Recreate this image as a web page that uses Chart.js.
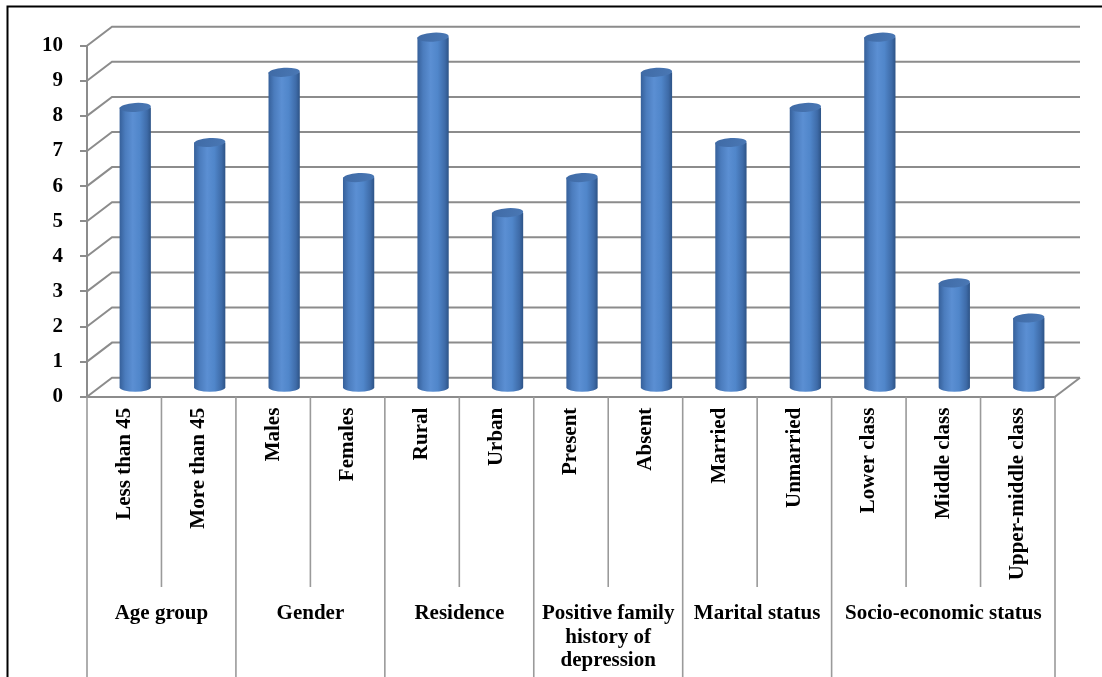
<!DOCTYPE html>
<html>
<head>
<meta charset="utf-8">
<script src="https://cdn.jsdelivr.net/npm/chart.js@4.4.1/dist/chart.umd.min.js"></script>
<style>
  html, body { margin: 0; padding: 0; background: #ffffff; }
  #wrap { position: relative; width: 1102px; height: 677px; }
</style>
</head>
<body>
<div id="wrap"><canvas id="c" width="1102" height="677"></canvas></div>
<script>
// ---- data ----
const categories = ['Less than 45', 'More than 45', 'Males', 'Females', 'Rural', 'Urban',
  'Present', 'Absent', 'Married', 'Unmarried', 'Lower class', 'Middle class', 'Upper-middle class'];
const values = [8, 7, 9, 6, 10, 5, 6, 9, 7, 8, 10, 3, 2];
const groupLabels = [['Age group'], ['Gender'], ['Residence'],
  ['Positive family', 'history of', 'depression'], ['Marital status'], ['Socio-economic status']];
const groupSizes = [2, 2, 2, 2, 2, 3];
const yTicks = [0, 1, 2, 3, 4, 5, 6, 7, 8, 9, 10];

// ---- style constants ----
const FONT = 'Liberation Serif';
const DEPTH_X = 25, DEPTH_Y = -19;      // back wall offset
const BAR_DX = 11, BAR_DY = -8.5;       // bars sit mid-depth
const GRID = '#8c8c8c';

const wallPlugin = {
  id: 'wall',
  beforeDatasetsDraw(chart) {
    const ctx = chart.ctx, ys = chart.scales.y, xs = chart.scales.x;
    ctx.save();
    ctx.strokeStyle = GRID;
    ctx.lineWidth = 2;
    yTicks.forEach(v => {
      const yf = ys.getPixelForValue(v);
      ctx.beginPath();
      ctx.moveTo(xs.left, yf);
      ctx.lineTo(xs.left + DEPTH_X, yf + DEPTH_Y);
      ctx.lineTo(xs.right + DEPTH_X, yf + DEPTH_Y);
      ctx.stroke();
    });
    const y0 = ys.getPixelForValue(0);
    ctx.beginPath();
    ctx.moveTo(xs.right, y0);
    ctx.lineTo(xs.right + DEPTH_X, y0 + DEPTH_Y);
    ctx.stroke();
    ctx.restore();
  },
  afterDatasetsDraw(chart) {
    const ctx = chart.ctx;
    const meta = chart.getDatasetMeta(0);
    meta.data.forEach(bar => {
      const p = bar.getProps(['x', 'y', 'base', 'width'], true);
      const cx = p.x + BAR_DX, rx = p.width / 2, ry = 4.5;
      const yt = p.y + BAR_DY, yb = p.base + BAR_DY;
      const g = ctx.createLinearGradient(cx - rx, 0, cx + rx, 0);
      g.addColorStop(0, '#36609a');
      g.addColorStop(0.18, '#4b7cbd');
      g.addColorStop(0.42, '#5b8fd3');
      g.addColorStop(0.65, '#5086ca');
      g.addColorStop(0.88, '#3e6ba8');
      g.addColorStop(1, '#2d5386');
      ctx.save();
      ctx.beginPath();
      ctx.moveTo(cx - rx, yt);
      ctx.lineTo(cx - rx, yb);
      ctx.ellipse(cx, yb, rx, ry, 0, Math.PI, 0, true);
      ctx.lineTo(cx + rx, yt);
      ctx.closePath();
      ctx.fillStyle = g;
      ctx.fill();
      const gt = ctx.createLinearGradient(cx - rx, yt - ry, cx + rx, yt + ry);
      gt.addColorStop(0, '#3f6aa5');
      gt.addColorStop(1, '#4a78b5');
      ctx.beginPath();
      ctx.ellipse(cx, yt, rx, ry, -0.06, 0, Math.PI * 2);
      ctx.fillStyle = gt;
      ctx.fill();
      ctx.restore();
    });
  },
  afterDraw(chart) {
    const ctx = chart.ctx, xs = chart.scales.x, ys = chart.scales.y;
    const y0 = ys.getPixelForValue(0);
    const n = categories.length;
    const step = (xs.right - xs.left) / n;
    const groupEdges = [0];
    groupSizes.forEach(s => groupEdges.push(groupEdges[groupEdges.length - 1] + s));
    ctx.save();
    ctx.strokeStyle = '#9a9a9a';
    ctx.lineWidth = 1.6;
    for (let i = 0; i <= n; i++) {
      const x = xs.left + i * step;
      const isGroup = groupEdges.includes(i);
      ctx.beginPath();
      ctx.moveTo(x, y0);
      ctx.lineTo(x, isGroup ? 677 : 587);
      ctx.stroke();
    }
    ctx.fillStyle = '#000';
    ctx.font = 'bold 21px "' + FONT + '"';
    ctx.textAlign = 'center';
    ctx.textBaseline = 'middle';
    groupLabels.forEach((lines, gi) => {
      const xc = xs.left + (groupEdges[gi] + groupEdges[gi + 1]) / 2 * step;
      lines.forEach((t, li) => ctx.fillText(t, xc, 614 + li * 23.5));
    });
    // outer frame
    ctx.strokeStyle = '#000';
    ctx.lineWidth = 2;
    ctx.beginPath();
    ctx.moveTo(1102, 6.5);
    ctx.lineTo(7.5, 6.5);
    ctx.lineTo(7.5, 677);
    ctx.stroke();
    ctx.restore();
  }
};

new Chart(document.getElementById('c'), {
  type: 'bar',
  data: {
    labels: categories,
    datasets: [{
      data: values,
      backgroundColor: 'rgba(0,0,0,0)',
      borderWidth: 0,
      barPercentage: 0.7,
      categoryPercentage: 0.6
    }]
  },
  options: {
    responsive: false,
    animation: false,
    devicePixelRatio: 1,
    layout: { padding: { top: 45.7, right: 47, left: 0, bottom: 0 } },
    plugins: { legend: { display: false }, tooltip: { enabled: false }, title: { display: false } },
    scales: {
      x: {
        offset: true,
        grid: { display: false, drawTicks: false },
        border: { display: true, color: GRID, width: 2 },
        ticks: {
          autoSkip: false, minRotation: 90, maxRotation: 90, padding: 11,
          color: '#000', font: { family: FONT, size: 21, weight: 'bold' }
        },
        afterFit(scale) { scale.height = 280.3; }
      },
      y: {
        min: 0, max: 10,
        afterBuildTicks(scale) { scale.ticks = yTicks.map(v => ({ value: v })); },
        grid: { drawOnChartArea: false, drawTicks: true, tickLength: 7, color: GRID, lineWidth: 2 },
        border: { display: true, color: GRID, width: 2 },
        ticks: {
          padding: 17, color: '#000', font: { family: FONT, size: 21, weight: 'bold' }
        },
        afterFit(scale) { scale.width = 87; }
      }
    }
  },
  plugins: [wallPlugin]
});
</script>
</body>
</html>
